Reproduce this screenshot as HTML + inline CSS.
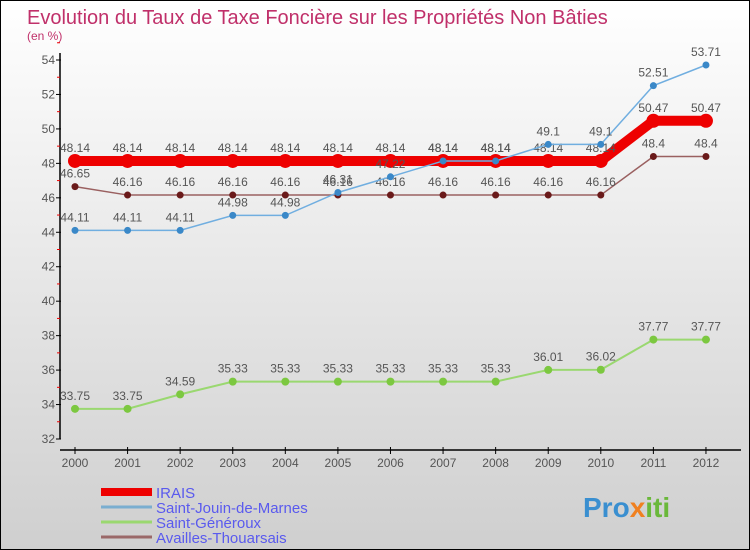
<!DOCTYPE html>
<html><head><meta charset="utf-8"><style>
html,body{margin:0;padding:0}
body{width:750px;height:550px;overflow:hidden;font-family:"Liberation Sans",sans-serif}
#wrap{position:relative;width:748px;height:548px;border:1px solid #000;background:linear-gradient(#ffffff,#cfcfcf)}
svg{position:absolute;left:0;top:0}
</style></head><body>
<div id="wrap">
<svg id="chart" width="748" height="548" font-family="Liberation Sans, sans-serif">
<text x="26" y="23" font-size="20" fill="#c0306a">Evolution du Taux de Taxe Foncière sur les Propriétés Non Bâties</text>
<text x="26" y="39" font-size="12" fill="#c0306a">(en %)</text>
<g id="axes"></g><g id="series"></g><g id="legend"></g>
<text x="582" y="516" font-size="28" font-weight="bold" fill="#3a8fd0">Pro<tspan fill="#f08020">x</tspan><tspan fill="#6ab83a">iti</tspan></text>
</svg>
</div>
<script>
const years=[2000,2001,2002,2003,2004,2005,2006,2007,2008,2009,2010,2011,2012];
const irais=[48.14,48.14,48.14,48.14,48.14,48.14,48.14,48.14,48.14,48.14,48.14,50.47,50.47];
const jouin=[44.11,44.11,44.11,44.98,44.98,46.31,47.22,48.14,48.14,49.1,49.1,52.51,53.71];
const generoux=[33.75,33.75,34.59,35.33,35.33,35.33,35.33,35.33,35.33,36.01,36.02,37.77,37.77];
const availles=[46.65,46.16,46.16,46.16,46.16,46.16,46.16,46.16,46.16,46.16,46.16,48.4,48.4];
const yTicks=[32,34,36,38,40,42,44,46,48,50,52,54];
const seriesNames=["IRAIS","Saint-Jouin-de-Marnes","Saint-Généroux","Availles-Thouarsais"];

const NS="http://www.w3.org/2000/svg";
const X0=74,XS=52.58,Y0=438,YMIN=32,YPU=(438-59)/22;
const xs=i=>X0+i*XS, ys=v=>Y0-(v-YMIN)*YPU;
function mk(t,a,p){const e=document.createElementNS(NS,t);for(const k in a)e.setAttribute(k,a[k]);p.appendChild(e);return e;}
const ax=document.getElementById('axes');
let l=mk('line',{x1:59,y1:52,x2:59,y2:Y0,stroke:'#000','stroke-width':1.5},ax);


yTicks.forEach(v=>{
  let t=mk('line',{x1:55,x2:60,y1:ys(v),y2:ys(v),stroke:'#000'},ax);
  
  
  let m=mk('line',{x1:56,x2:59,y1:ys(v+1),y2:ys(v+1),stroke:'#e00'},ax);
  
  
  let tx=mk('text',{x:54,y:ys(v)+4,'font-size':12,fill:'#555','text-anchor':'end'},ax);
  tx.textContent=v;
  
  
});
l=mk('line',{x1:59,y1:449,x2:740,y2:449,stroke:'#000','stroke-width':1.5},ax);


years.forEach((y,i)=>{
  let t=mk('line',{x1:xs(i),x2:xs(i),y1:446,y2:453,stroke:'#000'},ax);
  
  
  let tx=mk('text',{x:xs(i),y:466,'font-size':12,fill:'#555','text-anchor':'middle'},ax);
  tx.textContent=y;
  
  
});
const sg=document.getElementById('series');
function draw(vals,color,w,r,dot,name){
  const g=mk('g',{},sg);
  
  
  const p=mk('polyline',{points:vals.map((v,i)=>xs(i)+','+ys(v)).join(' '),fill:'none',stroke:color,'stroke-width':w},g);
  
  
  vals.forEach((v,i)=>{
    const c=mk('circle',{cx:xs(i),cy:ys(v),r:r,fill:dot},g);
    
    
    const t=mk('text',{x:xs(i),y:ys(v)-9,'font-size':12,fill:'#555','text-anchor':'middle'},g);
    t.textContent=v;
    
    
  });
}
draw(generoux,'#9ad870',2,4,'#7cc840','generoux');
draw(availles,'#9a6060',1.5,3.5,'#6a1a1a','availles');
draw(irais,'#ee0000',10,7,'#ee0000','irais');
draw(jouin,'#70aee0',1.5,3.5,'#3a88c8','jouin');
const lg=document.getElementById('legend');
const lc=['#ee0000','#7aaed0','#9ad870','#9a6868'],lw=[8,3,3,3];
seriesNames.forEach((n,i)=>{
  const y=492+i*15;
  const ln=mk('line',{x1:100,x2:151,y1:y-1,y2:y-1,stroke:lc[i],'stroke-width':lw[i]},lg);
  
  
  const t=mk('text',{x:155,y:y+5,'font-size':15,fill:'#5a5aee'},lg);
  t.textContent=n;
  
  
});
</script>
</body></html>
